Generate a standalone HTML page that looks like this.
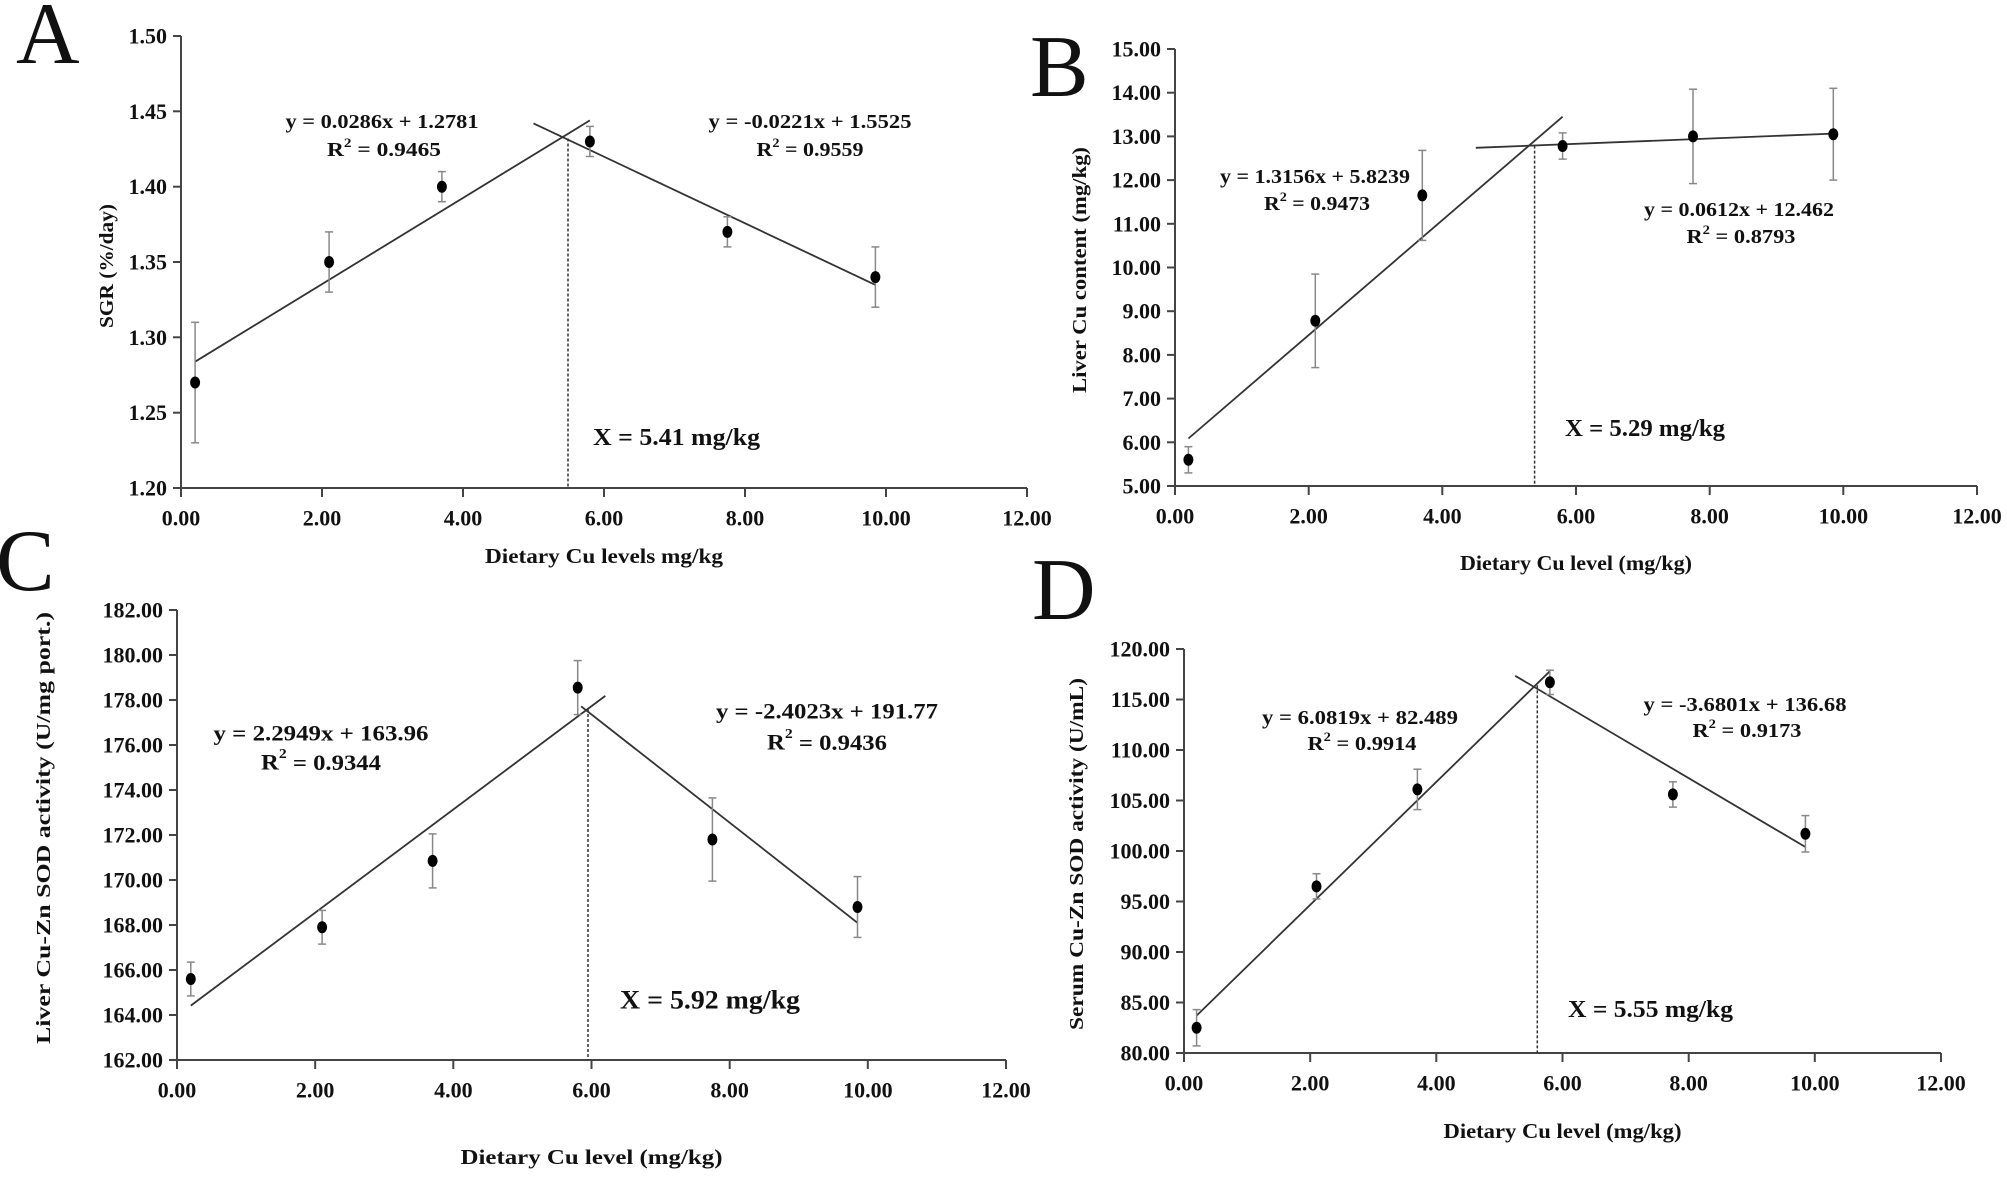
<!DOCTYPE html>
<html><head><meta charset="utf-8"><style>
html,body{margin:0;padding:0;background:#fff;}
svg{display:block;}
text{font-family:"Liberation Serif",serif;font-weight:bold;fill:#111;}
</style></head><body>
<svg id="s" width="2007" height="1182" viewBox="0 0 2007 1182" xmlns="http://www.w3.org/2000/svg"></svg>
<script>
var S=document.getElementById('s'),out='';
function T(x,y,s,fs,anchor,len,extra){out+='<text x="'+x+'" y="'+y+'" font-size="'+fs+'" text-anchor="'+(anchor||'middle')+'" dominant-baseline="central"'+(len?' textLength="'+len+'" lengthAdjust="spacingAndGlyphs"':'')+(extra||'')+'>'+s+'</text>';}
function L(x1,y1,x2,y2,c,w,d){out+='<line x1="'+x1.toFixed(1)+'" y1="'+y1.toFixed(1)+'" x2="'+x2.toFixed(1)+'" y2="'+y2.toFixed(1)+'" stroke="'+c+'" stroke-width="'+w+'"'+(d?' stroke-dasharray="'+d+'"':'')+'/>';}
function R(v,fs){var s=Math.round(fs*0.65),d=Math.round(fs*0.38);return 'R<tspan font-size="'+s+'" dy="-'+d+'">2</tspan><tspan dy="'+d+'"> = '+v+'</tspan>';}
function panel(p){
 var X=function(v){return p.x0+(p.x1-p.x0)*v/12;};
 var Y=function(v){return p.yb+(p.yt-p.yb)*(v-p.ymin)/(p.ymax-p.ymin);};
 L(p.x0,p.yt,p.x0,p.yb,'#444',2);L(p.x0,p.yb,p.x1,p.yb,'#444',2);
 for(var i=0;i<p.ticks.length;i++){var yy=Y(p.ticks[i]);L(p.x0-8,yy,p.x0,yy,'#444',2);T(p.x0-14,yy,p.ticks[i].toFixed(2),22,'end');}
 for(var k=0;k<=12;k+=2){var xx=X(k);L(xx,p.yb,xx,p.yb+9,'#444',2);T(xx,p.yb+30,k.toFixed(2),22,'middle');}
 T((p.x0+p.x1)/2,p.axY,p.xlabel,21,'middle',p.xlabLen);
 out+='<text x="'+p.ylx+'" y="'+p.yly+'" font-size="20" text-anchor="middle" dominant-baseline="central" textLength="'+p.ylabLen+'" lengthAdjust="spacingAndGlyphs" transform="rotate(-90 '+p.ylx+' '+p.yly+')">'+p.ylabel+'</text>';
 p.lines.forEach(function(l){L(X(l[0]),Y(l[1]),X(l[2]),Y(l[3]),'#333',1.8);});
 L(X(p.vx),Y(p.vy),X(p.vx),p.yb,'#333',1.5,'3,2');
 p.pts.forEach(function(q){var x=X(q[0]);L(x,Y(q[1]-q[2]),x,Y(q[1]+q[2]),'#888',1.5);L(x-4,Y(q[1]-q[2]),x+4,Y(q[1]-q[2]),'#888',1.5);L(x-4,Y(q[1]+q[2]),x+4,Y(q[1]+q[2]),'#888',1.5);out+='<ellipse cx="'+x.toFixed(1)+'" cy="'+Y(q[1]).toFixed(1)+'" rx="5" ry="6" fill="#000"/>';});
 p.txt.forEach(function(t){T(t[0],t[1],t[2],t[3],t[4]||'middle',t[5]);});
 out+='<text x="'+p.lx+'" y="'+p.ly+'" font-size="88" style="font-weight:normal" text-anchor="start">'+p.letter+'</text>';
}
panel({x0:181,x1:1027,yt:36,yb:488,ymin:1.2,ymax:1.5,ticks:[1.2,1.25,1.3,1.35,1.4,1.45,1.5],axY:556,xlabel:'Dietary Cu levels mg/kg',xlabLen:238,
 ylx:107,yly:266,ylabel:'SGR (%/day)',ylabLen:124,
 lines:[[0.2,1.2838,5.8,1.4440],[5.0,1.4420,9.85,1.3348]],vx:5.49,vy:1.432,
 pts:[[0.2,1.27,0.04],[2.1,1.35,0.02],[3.7,1.40,0.01],[5.8,1.43,0.01],[7.75,1.37,0.01],[9.85,1.34,0.02]],
 txt:[[382,122,'y = 0.0286x + 1.2781',20,'middle',193],[384,150,R('0.9465',20),20,'middle',114],[810,122,'y = -0.0221x + 1.5525',20,'middle',203],[810,150,R('0.9559',20),20,'middle',107],[593,438,'X = 5.41 mg/kg',24,'start',167]],
 lx:16,ly:63,letter:'A'});
panel({x0:1175,x1:1977,yt:49,yb:486,ymin:5,ymax:15,ticks:[5,6,7,8,9,10,11,12,13,14,15],axY:563,xlabel:'Dietary Cu level (mg/kg)',xlabLen:232,
 ylx:1080,yly:270,ylabel:'Liver Cu content (mg/kg)',ylabLen:246,
 lines:[[0.2,6.087,5.8,13.45],[4.5,12.74,9.85,13.065]],vx:5.38,vy:12.79,
 pts:[[0.2,5.6,0.3],[2.1,8.78,1.07],[3.7,11.65,1.03],[5.8,12.78,0.3],[7.75,13.0,1.08],[9.85,13.05,1.05]],
 txt:[[1315,177,'y = 1.3156x + 5.8239',20,'middle',190],[1317,204,R('0.9473',20),20,'middle',106],[1739,210,'y = 0.0612x + 12.462',20,'middle',190],[1741,237,R('0.8793',20),20,'middle',109],[1565,429,'X = 5.29 mg/kg',24,'start',160]],
 lx:1030,ly:96,letter:'B'});
panel({x0:177,x1:1006,yt:610,yb:1060,ymin:162,ymax:182,ticks:[162,164,166,168,170,172,174,176,178,180,182],axY:1157,xlabel:'Dietary Cu level (mg/kg)',xlabLen:262,
 ylx:44,yly:828,ylabel:'Liver Cu-Zn SOD activity (U/mg port.)',ylabLen:432,
 lines:[[0.2,164.42,6.2,178.18],[5.85,177.72,9.85,168.1]],vx:5.95,vy:177.6,
 pts:[[0.2,165.6,0.75],[2.1,167.9,0.75],[3.7,170.85,1.2],[5.8,178.55,1.2],[7.75,171.8,1.85],[9.85,168.8,1.35]],
 txt:[[321,733,'y = 2.2949x + 163.96',22,'middle',215],[321,762,R('0.9344',22),22,'middle',120],[827,711,'y = -2.4023x + 191.77',22,'middle',222],[827,742,R('0.9436',22),22,'middle',120],[620,1000,'X = 5.92 mg/kg',26,'start',180]],
 lx:-4,ly:590,letter:'C'});
panel({x0:1184,x1:1941,yt:649,yb:1053,ymin:80,ymax:120,ticks:[80,85,90,95,100,105,110,115,120],axY:1131,xlabel:'Dietary Cu level (mg/kg)',xlabLen:238,
 ylx:1077,yly:854,ylabel:'Serum Cu-Zn SOD activity (U/mL)',ylabLen:352,
 lines:[[0.2,83.7,5.8,117.8],[5.25,117.35,9.85,100.4]],vx:5.6,vy:116.4,
 pts:[[0.2,82.5,1.8],[2.1,96.5,1.25],[3.7,106.1,2.0],[5.8,116.7,1.2],[7.75,105.6,1.25],[9.85,101.7,1.8]],
 txt:[[1360,718,'y = 6.0819x + 82.489',20,'middle',196],[1362,744,R('0.9914',20),20,'middle',109],[1745,705,'y = -3.6801x + 136.68',20,'middle',203],[1747,731,R('0.9173',20),20,'middle',109],[1568,1010,'X = 5.55 mg/kg',24,'start',165]],
 lx:1032,ly:619,letter:'D'});
S.innerHTML=out;
</script>
</body></html>
